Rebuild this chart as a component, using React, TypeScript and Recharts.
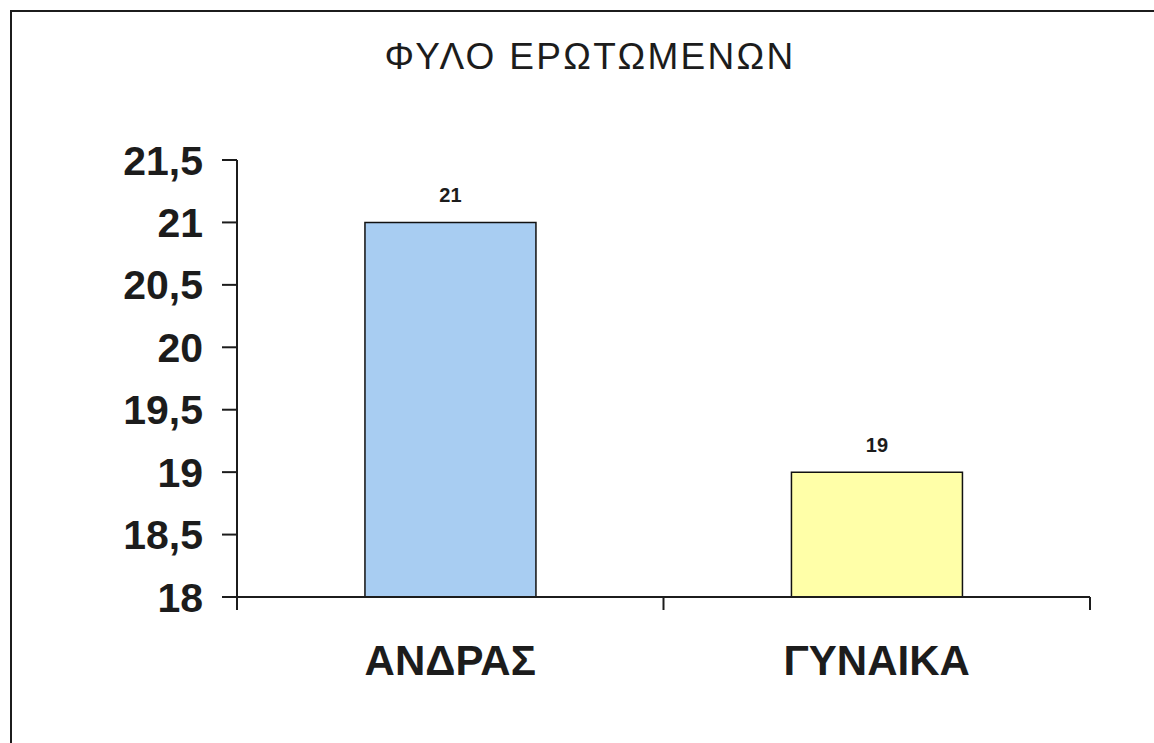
import { BarChart, Bar, XAxis, YAxis, LabelList, Cell } from 'recharts';

const categories = ['ΑΝΔΡΑΣ', 'ΓΥΝΑΙΚΑ'];
const respondents = [21, 19];
const barColors = ['#A8CDF2', '#FFFFA8'];
const yTicks = [18, 18.5, 19, 19.5, 20, 20.5, 21, 21.5];

const data = categories.map((name, i) => ({ name, value: respondents[i] }));

const FONT = '"Liberation Sans", Arial, sans-serif';
const INK = '#1c1c1c';

// category ticks sit on the band edges, like the original Excel chart
function CategoryTick(props: any) {
  const { x, y, payload, index, visibleTicksCount } = props;
  const half = payload?.offset ?? 0;
  const isLast = index === (visibleTicksCount ?? categories.length) - 1;
  return (
    <g>
      <line x1={x - half} x2={x - half} y1={y - 35} y2={y - 22} stroke={INK} strokeWidth={2} />
      {isLast && <line x1={x + half} x2={x + half} y1={y - 35} y2={y - 22} stroke={INK} strokeWidth={2} />}
      <text x={x} y={y + 43} textAnchor="middle" fontFamily={FONT} fontWeight="bold" fontSize={42} fill={INK}>
        {payload.value}
      </text>
    </g>
  );
}

export default function App() {
  return (
    <div style={{ position: 'absolute', left: 0, top: 0, width: 1154, height: 743, background: '#fff', fontFamily: FONT }}>
      <div style={{ position: 'absolute', left: 10, top: 10, width: 1144, height: 2, background: INK }} />
      <div style={{ position: 'absolute', left: 10, top: 10, width: 2, height: 733, background: INK }} />
      <div
        style={{
          position: 'absolute',
          left: 0,
          top: 38,
          width: 1180,
          textAlign: 'center',
          fontSize: 37,
          lineHeight: '37px',
          letterSpacing: 2.3,
          color: INK,
        }}
      >
        ΦΥΛΟ ΕΡΩΤΩΜΕΝΩΝ
      </div>
      <div style={{ position: 'absolute', left: 0, top: 0 }}>
        <BarChart width={1154} height={743} data={data} margin={{ top: 160, right: 64, bottom: 0, left: 0 }} barCategoryGap="30%">
          <XAxis
            dataKey="name"
            height={146}
            axisLine={{ stroke: INK, strokeWidth: 2 }}
            tickLine={false}
            tickSize={13}
            tickMargin={22}
            tick={<CategoryTick />}
            interval={0}
          />
          <YAxis
            type="number"
            domain={[18, 21.5]}
            ticks={yTicks}
            width={237}
            interval={0}
            axisLine={{ stroke: INK, strokeWidth: 2 }}
            tickLine={{ stroke: INK, strokeWidth: 2 }}
            tickSize={15}
            tickMargin={19}
            tickFormatter={(v: number) => String(v).replace('.', ',')}
            tick={{ fill: INK, fontSize: 41, fontWeight: 'bold', fontFamily: FONT }}
          />
          <Bar dataKey="value" stroke="#111" strokeWidth={1.5} isAnimationActive={false}>
            {data.map((d, i) => (
              <Cell key={d.name} fill={barColors[i]} />
            ))}
            <LabelList dataKey="value" position="top" offset={20} fill={INK} fontSize={20} fontWeight="bold" fontFamily={FONT} />
          </Bar>
        </BarChart>
      </div>
    </div>
  );
}
